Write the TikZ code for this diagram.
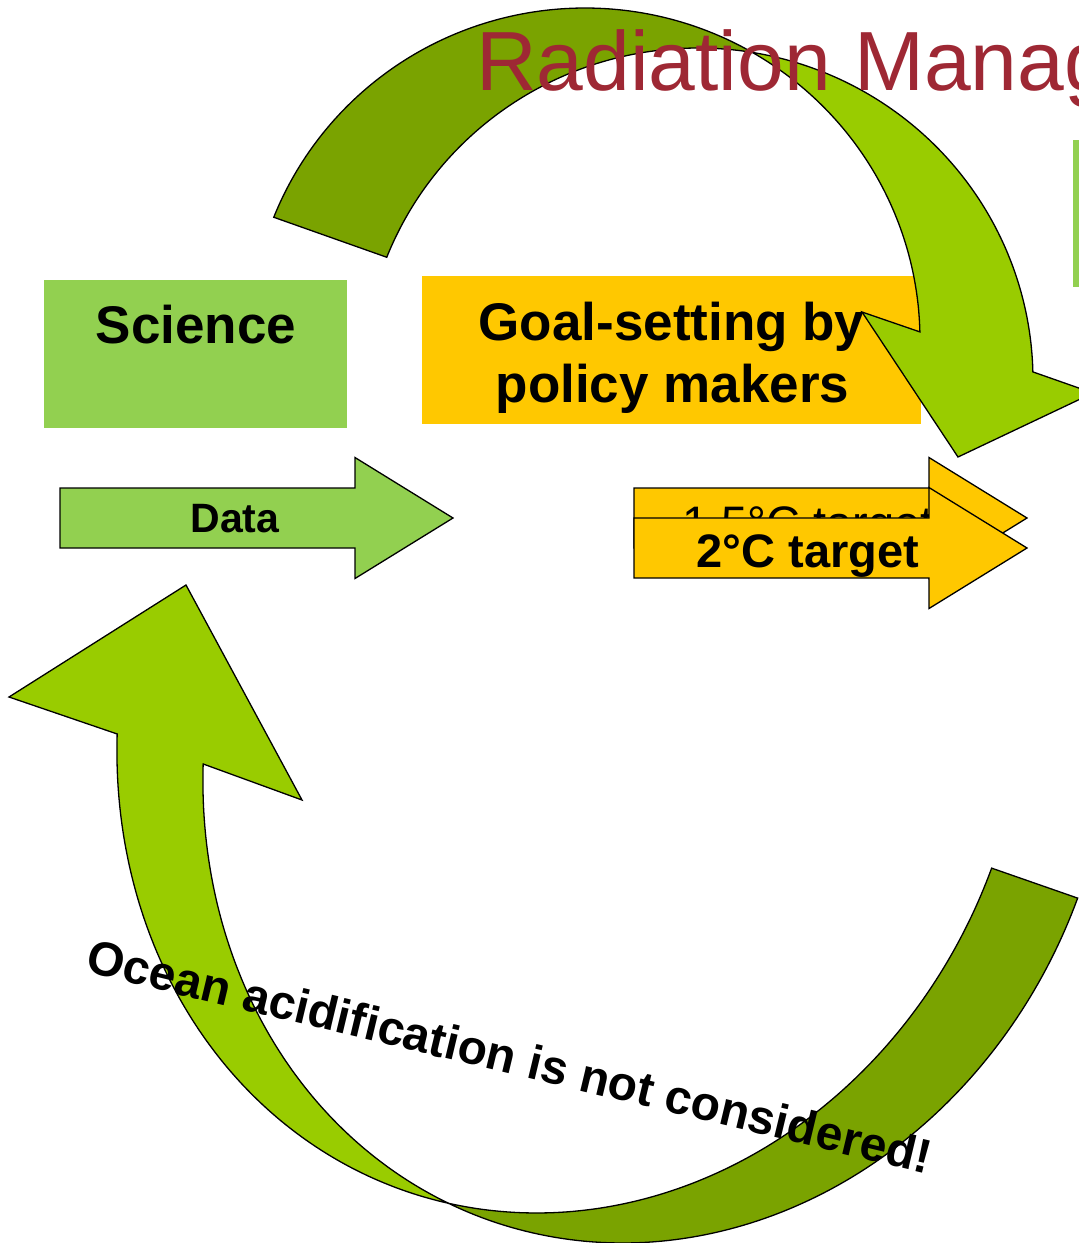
\documentclass[tikz,border=0pt]{standalone}
\usepackage{fontspec}
\setmainfont{Liberation Sans}
\definecolor{leaf}{HTML}{99CC00}
\definecolor{leafdark}{HTML}{7AA300}
\definecolor{sciencegreen}{HTML}{92D050}
\definecolor{goalgold}{HTML}{FFC800}
\definecolor{titlered}{RGB}{158,40,52}

\tikzset{
  outline/.style={draw=black, line width=1.3pt, line join=miter},
  band/.style={outline, fill=leaf},
  backband/.style={outline, fill=leafdark},
  plainbox/.style={draw=none, inner sep=0pt, outer sep=0pt},
  boldtext/.style={inner sep=0pt, font=\bfseries\fontsize{#1}{#1}\selectfont},
  edgeplot/.style={samples=100, variable=\t},
  pics/flatarrow/.style={code={
    \filldraw[outline, fill=#1] (0,-30) -- (295,-30) -- (295,-60.5) -- (393,0)
      -- (295,60.5) -- (295,30) -- (0,30) -- cycle;}}
}

\begin{document}
\begin{tikzpicture}[x=1pt, y=-1pt]
\useasboundingbox (0,0) rectangle (1079,1243);
\clip (0,0) rectangle (1079,1243);

% boxes
\node[plainbox, fill=sciencegreen, minimum width=303pt, minimum height=148pt] (science) at (195.5,354) {};
\node[boldtext=53, anchor=base] (sciencetext) at (196,343) {Science};

\node[plainbox, fill=goalgold, minimum width=499pt, minimum height=148pt] (goal) at (671.5,350) {};
\node[boldtext=53, anchor=base] (goalline1) at (671.5,340) {Goal-setting by};
\node[boldtext=53, anchor=base] (goalline2) at (672.5,402) {policy makers};

\node[plainbox, fill=sciencegreen, minimum width=160pt, minimum height=147pt, anchor=north west] (sidebox) at (1073,139.5) {};

% straight arrows
\pic (dataarrow) at (60,518) {flatarrow=sciencegreen};
\node[boldtext=41] (datatext) at (235,519) {Data};

\pic (onefivearrow) at (634,518) {flatarrow=goalgold};
\node[inner sep=0pt, anchor=base, font=\fontsize{47}{47}\selectfont] (onefivetext) at (808,539) {1.5°C target};

\pic (twodegarrow) at (634,548) {flatarrow=goalgold};
\node[boldtext=47, anchor=base] (twodegtext) at (808,567) {2°C target};

% upper curved arrow: two equal ellipses, centres (585,340) and (698,380)
% back face
\filldraw[backband]
  plot[edgeplot, domain=-158.3:-60.3] ({585+335*cos(\t)}, {340+332*sin(\t)})
  -- plot[edgeplot, domain=-80.9:-158.3] ({698+335*cos(\t)}, {380+332*sin(\t)})
  -- cycle;
% front face with head
\filldraw[band]
  plot[edgeplot, domain=-80.9:-1.4] ({698+335*cos(\t)}, {380+332*sin(\t)})
  -- (1093,393) -- (958,457) -- (862,312)
  -- plot[edgeplot, domain=-1.4:-60.3] ({585+335*cos(\t)}, {340+332*sin(\t)})
  -- cycle;

\node[inner sep=0pt, anchor=base west, text=titlered, font=\fontsize{84}{84}\selectfont] (title) at (476,90) {Radiation Management};

% lower curved arrow: two equal ellipses (radii 448 and 507, tilted 19.3 degrees),
% centres (571.7,712.1) and (657.7,742.1)
% back face, from the twist to the tail
\filldraw[backband]
  plot[edgeplot, domain=84.16:0.95] ({571.7+422.8*cos(\t)-167.6*sin(\t)}, {712.1+148.1*cos(\t)+478.5*sin(\t)})
  -- plot[edgeplot, domain=0.95:95.84] ({657.7+422.8*cos(\t)-167.6*sin(\t)}, {742.1+148.1*cos(\t)+478.5*sin(\t)})
  -- cycle;
% front face with head
\filldraw[band]
  (186,585) -- (9,697)
  -- plot[edgeplot, domain=160.3:84.16] ({571.7+422.8*cos(\t)-167.6*sin(\t)}, {712.1+148.1*cos(\t)+478.5*sin(\t)})
  -- plot[edgeplot, domain=95.84:160.3] ({657.7+422.8*cos(\t)-167.6*sin(\t)}, {742.1+148.1*cos(\t)+478.5*sin(\t)})
  -- (302,800) -- cycle;

\node[boldtext=48, anchor=base, rotate=-13.5] (oceantext) at (506,1073) {Ocean acidification is not considered!};
\end{tikzpicture}
\end{document}
